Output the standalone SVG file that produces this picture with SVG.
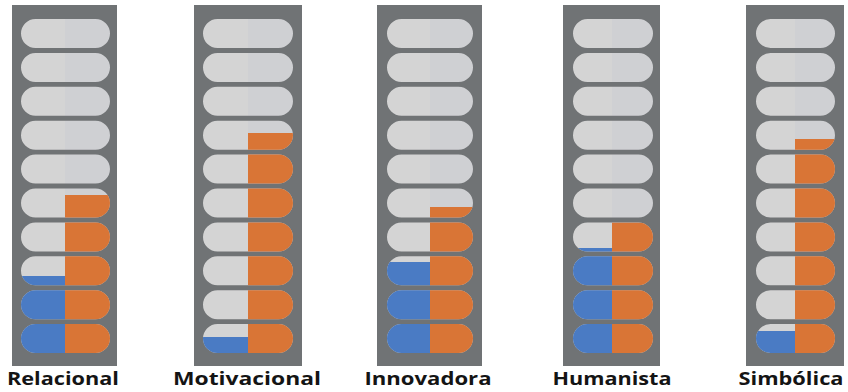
<svg xmlns="http://www.w3.org/2000/svg" width="848" height="392" viewBox="0 0 848 392">
<style>
.panel{fill:#707375}
.gl{fill:#d4d4d4}
.gr{fill:#cfd0d3}
.or{fill:#d97536}
.bl{fill:#4a7bc4}
.lbl{font-family:"Open Sans","Liberation Sans",sans-serif;font-weight:700;font-size:18px;fill:#141414;text-anchor:middle}
</style>
<defs>
<clipPath id="c1"><rect x="21" y="19" width="89" height="29" rx="14.5"/><rect x="21" y="52.9" width="89" height="29" rx="14.5"/><rect x="21" y="86.8" width="89" height="29" rx="14.5"/><rect x="21" y="120.7" width="89" height="29" rx="14.5"/><rect x="21" y="154.6" width="89" height="29" rx="14.5"/><rect x="21" y="188.5" width="89" height="29" rx="14.5"/><rect x="21" y="222.4" width="89" height="29" rx="14.5"/><rect x="21" y="256.3" width="89" height="29" rx="14.5"/><rect x="21" y="290.2" width="89" height="29" rx="14.5"/><rect x="21" y="324.1" width="89" height="29" rx="14.5"/></clipPath>
<clipPath id="c2"><rect x="203" y="19" width="90" height="29" rx="14.5"/><rect x="203" y="52.9" width="90" height="29" rx="14.5"/><rect x="203" y="86.8" width="90" height="29" rx="14.5"/><rect x="203" y="120.7" width="90" height="29" rx="14.5"/><rect x="203" y="154.6" width="90" height="29" rx="14.5"/><rect x="203" y="188.5" width="90" height="29" rx="14.5"/><rect x="203" y="222.4" width="90" height="29" rx="14.5"/><rect x="203" y="256.3" width="90" height="29" rx="14.5"/><rect x="203" y="290.2" width="90" height="29" rx="14.5"/><rect x="203" y="324.1" width="90" height="29" rx="14.5"/></clipPath>
<clipPath id="c3"><rect x="387" y="19" width="86" height="29" rx="14.5"/><rect x="387" y="52.9" width="86" height="29" rx="14.5"/><rect x="387" y="86.8" width="86" height="29" rx="14.5"/><rect x="387" y="120.7" width="86" height="29" rx="14.5"/><rect x="387" y="154.6" width="86" height="29" rx="14.5"/><rect x="387" y="188.5" width="86" height="29" rx="14.5"/><rect x="387" y="222.4" width="86" height="29" rx="14.5"/><rect x="387" y="256.3" width="86" height="29" rx="14.5"/><rect x="387" y="290.2" width="86" height="29" rx="14.5"/><rect x="387" y="324.1" width="86" height="29" rx="14.5"/></clipPath>
<clipPath id="c4"><rect x="573" y="19" width="80" height="29" rx="14.5"/><rect x="573" y="52.9" width="80" height="29" rx="14.5"/><rect x="573" y="86.8" width="80" height="29" rx="14.5"/><rect x="573" y="120.7" width="80" height="29" rx="14.5"/><rect x="573" y="154.6" width="80" height="29" rx="14.5"/><rect x="573" y="188.5" width="80" height="29" rx="14.5"/><rect x="573" y="222.4" width="80" height="29" rx="14.5"/><rect x="573" y="256.3" width="80" height="29" rx="14.5"/><rect x="573" y="290.2" width="80" height="29" rx="14.5"/><rect x="573" y="324.1" width="80" height="29" rx="14.5"/></clipPath>
<clipPath id="c5"><rect x="756" y="19" width="79" height="29" rx="14.5"/><rect x="756" y="52.9" width="79" height="29" rx="14.5"/><rect x="756" y="86.8" width="79" height="29" rx="14.5"/><rect x="756" y="120.7" width="79" height="29" rx="14.5"/><rect x="756" y="154.6" width="79" height="29" rx="14.5"/><rect x="756" y="188.5" width="79" height="29" rx="14.5"/><rect x="756" y="222.4" width="79" height="29" rx="14.5"/><rect x="756" y="256.3" width="79" height="29" rx="14.5"/><rect x="756" y="290.2" width="79" height="29" rx="14.5"/><rect x="756" y="324.1" width="79" height="29" rx="14.5"/></clipPath>
</defs>

<g id="relacional">
<rect class="panel" x="12" y="5" width="105" height="361"/>
<g clip-path="url(#c1)">
<rect class="gl" x="21" y="19" width="44" height="335"/>
<rect class="gr" x="65" y="19" width="45" height="335"/>
<rect class="or" x="65" y="195" width="45" height="159"/>
<rect class="bl" x="21" y="276" width="44" height="78"/>
</g>
<text class="lbl" x="63" y="385" textLength="112" lengthAdjust="spacingAndGlyphs">Relacional</text>
</g>

<g id="motivacional">
<rect class="panel" x="194" y="5" width="108" height="361"/>
<g clip-path="url(#c2)">
<rect class="gl" x="203" y="19" width="45" height="335"/>
<rect class="gr" x="248" y="19" width="45" height="335"/>
<rect class="or" x="248" y="133" width="45" height="221"/>
<rect class="bl" x="203" y="337" width="45" height="17"/>
</g>
<text class="lbl" x="247" y="385" textLength="148" lengthAdjust="spacingAndGlyphs">Motivacional</text>
</g>

<g id="innovadora">
<rect class="panel" x="377" y="5" width="105" height="361"/>
<g clip-path="url(#c3)">
<rect class="gl" x="387" y="19" width="43" height="335"/>
<rect class="gr" x="430" y="19" width="43" height="335"/>
<rect class="or" x="430" y="207" width="43" height="147"/>
<rect class="bl" x="387" y="262" width="43" height="92"/>
</g>
<text class="lbl" x="428" y="385" textLength="127" lengthAdjust="spacingAndGlyphs">Innovadora</text>
</g>

<g id="humanista">
<rect class="panel" x="563" y="5" width="97" height="361"/>
<g clip-path="url(#c4)">
<rect class="gl" x="573" y="19" width="39" height="335"/>
<rect class="gr" x="612" y="19" width="41" height="335"/>
<rect class="or" x="612" y="222.4" width="41" height="132"/>
<rect class="bl" x="573" y="248" width="39" height="106"/>
</g>
<text class="lbl" x="612" y="385" textLength="119" lengthAdjust="spacingAndGlyphs">Humanista</text>
</g>

<g id="simbolica">
<rect class="panel" x="746" y="5" width="98" height="361"/>
<g clip-path="url(#c5)">
<rect class="gl" x="756" y="19" width="39" height="335"/>
<rect class="gr" x="795" y="19" width="40" height="335"/>
<rect class="or" x="795" y="139" width="40" height="215"/>
<rect class="bl" x="756" y="331" width="39" height="23"/>
</g>
<text class="lbl" x="791" y="385" textLength="105" lengthAdjust="spacingAndGlyphs">Simbólica</text>
</g>
</svg>
